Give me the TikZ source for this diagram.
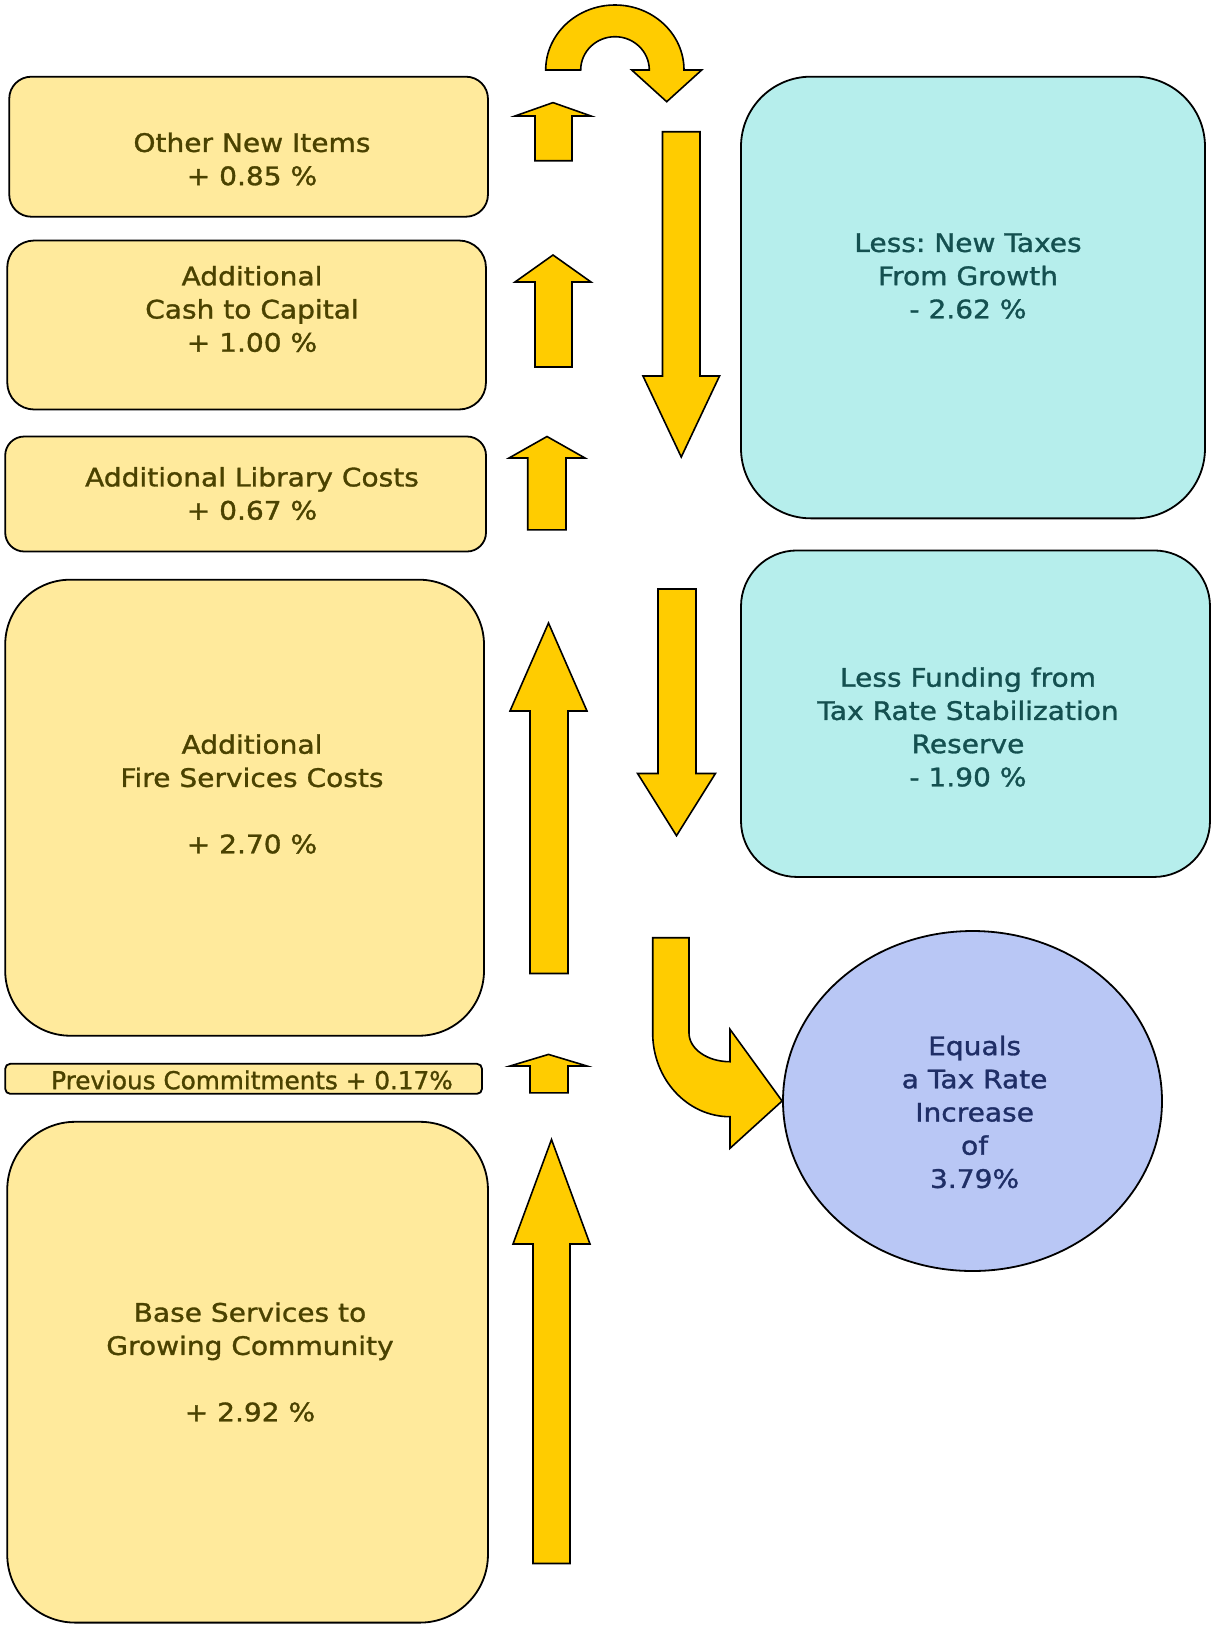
\documentclass[tikz,border=0pt]{standalone}
\usepackage{fontspec}
\setmainfont{DejaVu Sans}
\newfontfamily\widefont[FakeStretch=1.1,FakeBold=1.2]{DejaVu Sans}
\newfontfamily\plainfont[FakeBold=1.2]{DejaVu Sans}
\usetikzlibrary{shapes.geometric}
\frenchspacing
\definecolor{yfill}{HTML}{FFEA9C}
\definecolor{ytext}{HTML}{4A4200}
\definecolor{tfill}{HTML}{B6EEEC}
\definecolor{ttext}{HTML}{145050}
\definecolor{bfill}{HTML}{B9C7F5}
\definecolor{btext}{HTML}{1F2E66}
\definecolor{afill}{HTML}{FFCC00}
\newcommand{\blockarrow}[8]{%
  \draw[barrow] (#1,#3) -- (#1,#4) -- (#5,#4) -- ({(#5+#6)/2},#7) -- (#6,#4) -- (#2,#4) -- (#2,#3) -- cycle;
  \coordinate (#8) at ({(#5+#6)/2},#7);}
\begin{document}
\begin{tikzpicture}[x=1pt,y=-1pt,
  ybox/.style={draw=black, line width=1.8pt, fill=yfill, rectangle, inner sep=0pt},
  tbox/.style={draw=black, line width=1.8pt, fill=tfill, rectangle, inner sep=0pt},
  bbox/.style={draw=black, line width=1.8pt, fill=bfill, ellipse, inner sep=0pt},
  lbl/.style={align=center, inner sep=0pt, font=\widefont\frenchspacing\fontsize{25.5pt}{33.2pt}\selectfont},
  ylbl/.style={lbl, text=ytext},
  tlbl/.style={lbl, text=ttext},
  blbl/.style={lbl, text=btext},
  barrow/.style={draw=black, line width=1.6pt, fill=afill, line join=miter}]
\useasboundingbox (0,0) rectangle (1211,1626);
\fill[white] (0,0) rectangle (1211,1626);

% left yellow boxes
\node[ybox, rounded corners=22pt, minimum width=478.7pt, minimum height=140pt] (b1) at (248.6,146.7) {};
\node[ybox, rounded corners=27pt, minimum width=478.7pt, minimum height=169pt] (b2) at (246.6,325) {};
\node[ybox, rounded corners=19pt, minimum width=480.8pt, minimum height=115pt] (b3) at (245.6,494) {};
\node[ybox, rounded corners=65pt, minimum width=478.8pt, minimum height=456pt] (b4) at (244.6,807.7) {};
\node[ybox, rounded corners=5pt, minimum width=476.8pt, minimum height=30pt] (b5) at (243.6,1078.8) {};
\node[ybox, rounded corners=68pt, minimum width=480.7pt, minimum height=500.8pt] (b6) at (247.6,1372.2) {};

\node[ylbl] (t1) at (252,159) {Other New Items\\+ 0.85 \%};
\node[ylbl] (t2) at (252,309) {Additional\\Cash to Capital\\+ 1.00 \%};
\node[ylbl] (t3) at (252,493.5) {Additional Library Costs\\+ 0.67 \%};
\node[ylbl] (t4) at (252,794) {Additional\\Fire Services Costs\\[33.2pt]+ 2.70 \%};
\node[ylbl, font=\plainfont\fontsize{24.7pt}{30pt}\selectfont] (t5) at (252,1080) {Previous Commitments + 0.17\%};
\node[ylbl] (t6) at (250,1362) {Base Services to\\Growing Community\\[33.2pt]+ 2.92 \%};

% right boxes
\node[tbox, rounded corners=70pt, minimum width=464pt, minimum height=441.7pt] (r1) at (973,297.5) {};
\node[tbox, rounded corners=56pt, minimum width=469pt, minimum height=326.5pt] (r2) at (975.5,713.7) {};
\node[bbox, minimum width=379pt, minimum height=340pt] (r3) at (972.5,1101) {};

\node[tlbl] (u1) at (968,276) {Less: New Taxes\\From Growth\\- 2.62 \%};
\node[tlbl] (u2) at (968,727) {Less Funding from\\Tax Rate Stabilization\\Reserve\\- 1.90 \%};
\node[blbl] (u3) at (974.6,1112) {Equals\\a Tax Rate\\Increase\\of\\3.79\%};

% straight block arrows
\blockarrow{535}{572}{160.7}{116}{515}{591}{102.6}{aA}
\blockarrow{535}{572}{367}{282}{515}{591}{255}{aB}
\blockarrow{527.7}{566}{529.8}{458}{509}{585}{436.5}{aC}
\blockarrow{530}{568}{973.5}{711}{510}{587}{623}{aD}
\blockarrow{530}{568}{1092.8}{1066}{510}{587}{1054.4}{aE}
\blockarrow{533}{570}{1563.5}{1244}{513}{590}{1139.5}{aF}
\blockarrow{662.5}{700}{131.7}{376}{643}{719.5}{457}{dA}
\blockarrow{658}{696}{589}{773.5}{637.6}{715.4}{835.7}{dB}

% U-turn arrow at the top
\draw[barrow] (545.7,70) .. controls (545.7,34.1) and (576.9,5) .. (615,5)
  .. controls (653.1,5) and (684,34.1) .. (684,70)
  -- (701.7,70) -- (666.7,101.7) -- (631.7,70) -- (649.3,70)
  .. controls (649.3,51.6) and (633.9,36.7) .. (615,36.7)
  .. controls (596.1,36.7) and (580.7,51.6) .. (580.7,70) -- cycle;

% bent arrow into the ellipse
\draw[barrow] (652.7,937.7) -- (689,937.7) -- (689,1033)
  .. controls (689,1048.9) and (707.4,1061.7) .. (730,1061.7)
  -- (730,1029.3) -- (r3.west) -- (730,1148.3) -- (730,1116.7)
  .. controls (687.3,1116.7) and (652.7,1079.2) .. (652.7,1033) -- cycle;
\end{tikzpicture}
\end{document}
